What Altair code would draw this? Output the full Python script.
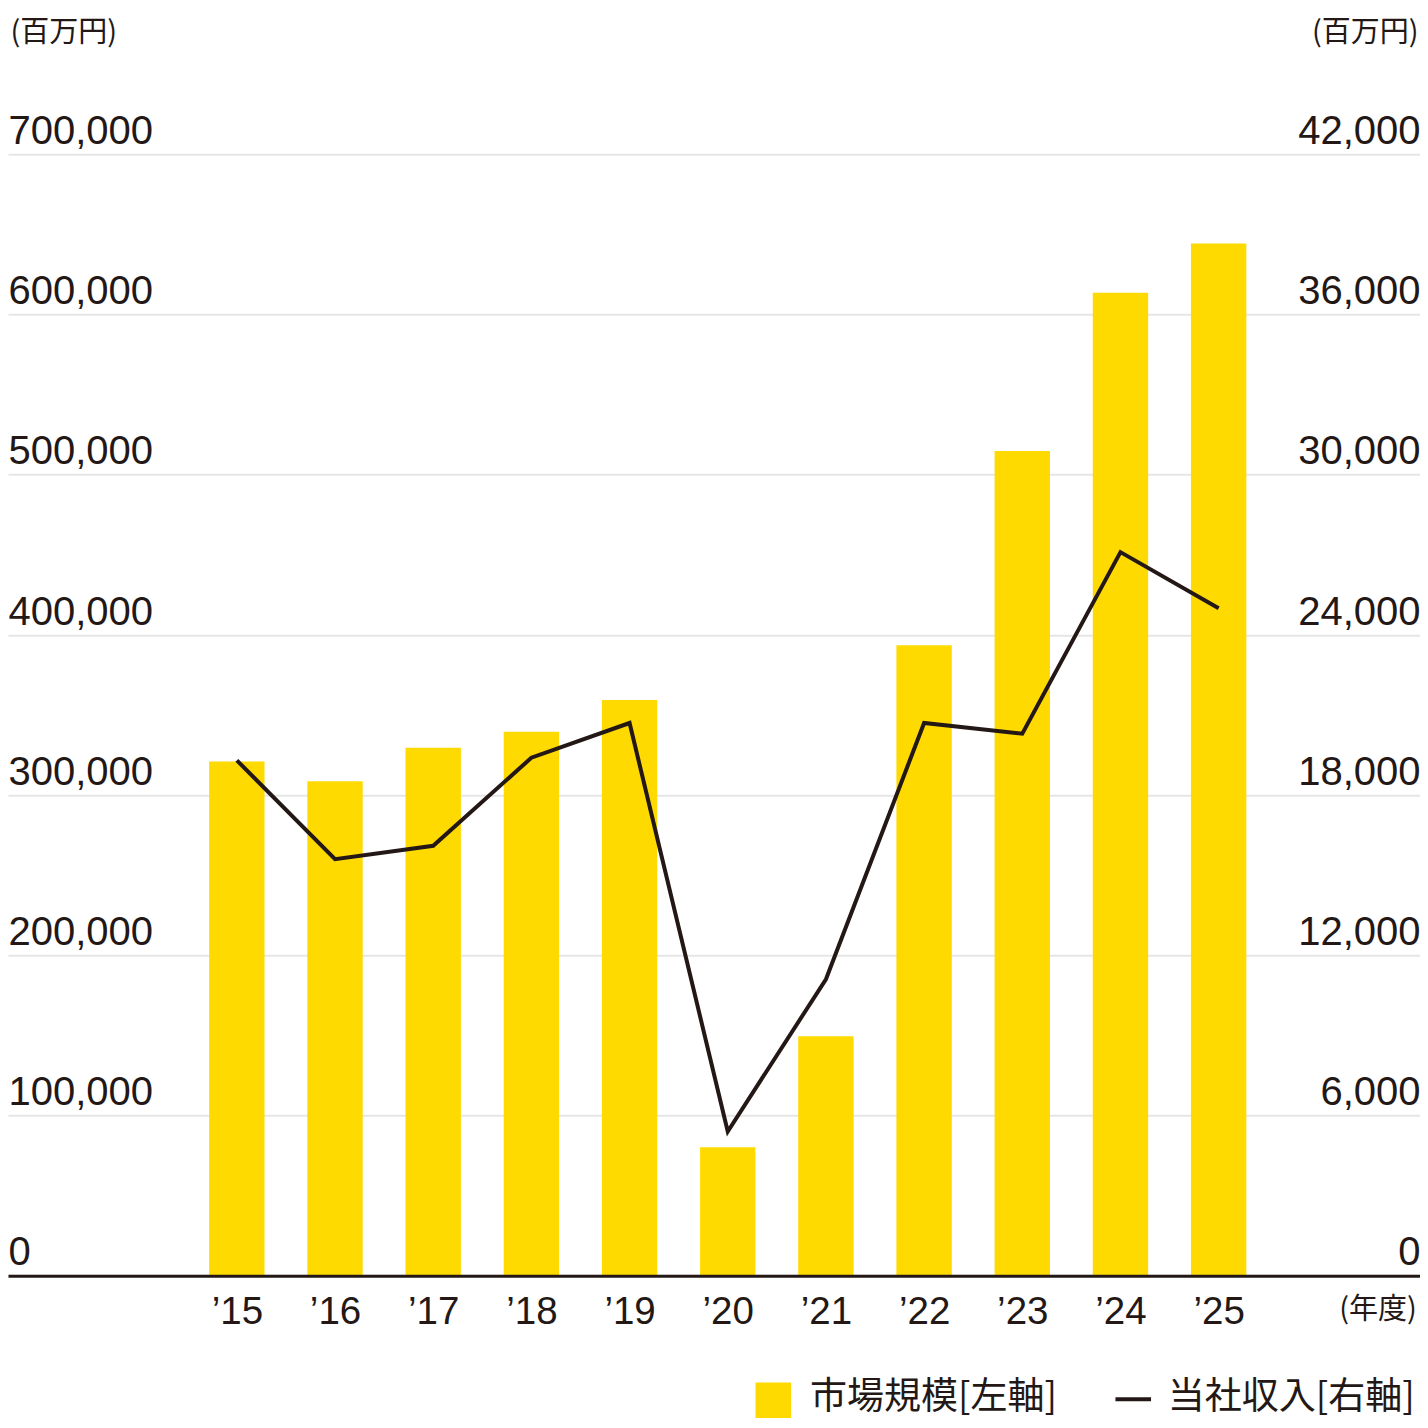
import json
import altair as alt
import pandas as pd

# ---- data ----
years = [2015, 2016, 2017, 2018, 2019, 2020, 2021, 2022, 2023, 2024, 2025]
year_labels = ["’15", "’16", "’17", "’18", "’19", "’20", "’21", "’22", "’23", "’24", "’25"]
market_size = [321000, 308600, 329600, 339500, 359300, 80200, 149400, 393500, 514800, 613600, 644400]
company_revenue = [19300, 15600, 16100, 19400, 20700, 5400, 11100, 20700, 20300, 27100, 25000]
left_ticks = [0, 100000, 200000, 300000, 400000, 500000, 600000, 700000]
right_ticks = [0, 6000, 12000, 18000, 24000, 30000, 36000, 42000]
unit_label = "(百万円)"
year_unit_label = "(年度)"
legend_labels = ["市場規模[左軸]", "当社収入[右軸]"]

# ---- layout helpers (reference pixel -> chart pixel) ----
S = 1412 / 1428
TOP = 148      # reference y of the top gridline
BASE = 1282    # reference y of the zero line


def px(v):
    return S * v


def py(v):
    return S * (v - TOP)


PAD_TOP = S * TOP
PLOT_H = S * (BASE - TOP)
PAD_BOTTOM = 1412 - PAD_TOP - PLOT_H
W = 1412

BAR = "#FFDA00"
INK = "#231815"
GRID = "#e6e6e6"
NUM_FONT = "Liberation Sans"
JP_FONT = "Noto Sans CJK JP"

df = pd.DataFrame({"year": years, "market": market_size, "revenue": company_revenue})

x_start = years[0] - 228 / 100
x_end = years[0] + (1428 - 228) / 100
x_scale = alt.Scale(domain=[x_start, x_end], nice=False, zero=False)

x_axis = alt.Axis(
    orient="bottom", values=years,
    labelExpr=f"{json.dumps(year_labels, ensure_ascii=False)}[datum.value - {years[0]}]",
    domain=True, domainColor=INK, domainWidth=3,
    ticks=False, tickSize=0, grid=False,
    labelFont=NUM_FONT, labelFontSize=38.5, labelColor=INK,
    labelAlign="center", labelBaseline="alphabetic", labelPadding=px(48),
    labelFlush=False, labelOverlap=False,
    title=year_unit_label, titleFont=JP_FONT, titleFontSize=29, titleFontWeight="normal",
    titleColor=INK, titleAngle=0, titleAlign="center", titleBaseline="middle",
    titleX=px(1385), titleY=px(1316 - BASE),
    zindex=1,
)

left_axis = alt.Axis(
    orient="left", values=left_ticks, format=",d",
    grid=True, gridColor=GRID, gridWidth=2,
    domain=False, ticks=False, tickSize=0,
    labelFont=NUM_FONT, labelFontSize=40, labelColor=INK,
    labelAlign="left", labelBaseline="alphabetic", labelPadding=0,
    labelOffset=-px(11), labelOverlap=False, labelFlush=False,
    title=unit_label, titleFont=JP_FONT, titleFontSize=29, titleFontWeight="normal",
    titleColor=INK, titleAngle=0, titleAlign="left", titleBaseline="middle",
    titleX=2, titleY=py(25),
)

right_axis = alt.Axis(
    orient="right", values=right_ticks, format=",d",
    grid=False, domain=False, ticks=False, tickSize=0,
    labelFont=NUM_FONT, labelFontSize=40, labelColor=INK,
    labelAlign="right", labelBaseline="alphabetic", labelPadding=0,
    labelOffset=-px(11), labelOverlap=False, labelFlush=False,
    title=unit_label, titleFont=JP_FONT, titleFontSize=29, titleFontWeight="normal",
    titleColor=INK, titleAngle=0, titleAlign="right", titleBaseline="middle",
    titleX=-2, titleY=py(25),
)

base = alt.Chart(df)

bars = base.mark_bar(color=BAR, size=px(56)).encode(
    x=alt.X("year:Q", scale=x_scale, axis=x_axis),
    y=alt.Y("market:Q", scale=alt.Scale(domain=[left_ticks[0], left_ticks[-1]], nice=False), axis=left_axis),
)

line = base.mark_line(color=INK, strokeWidth=4, strokeCap="butt", strokeJoin="miter").encode(
    x=alt.X("year:Q", scale=x_scale, axis=x_axis),
    y=alt.Y("revenue:Q", scale=alt.Scale(domain=[right_ticks[0], right_ticks[-1]], nice=False), axis=right_axis),
)

legend_swatch = alt.Chart(alt.Data(values=[{"label": legend_labels[0]}])).mark_rect(color=BAR).encode(
    x=alt.value(px(756)), x2=alt.value(px(792)), y=alt.value(py(1390)), y2=alt.value(py(1426)),
)
legend_stroke = alt.Chart(alt.Data(values=[{"label": legend_labels[1]}])).mark_rule(
    color=INK, strokeWidth=4
).encode(
    x=alt.value(px(1120)), x2=alt.value(px(1156)), y=alt.value(py(1407)),
)
legend_text1 = alt.Chart(alt.Data(values=[{"label": legend_labels[0]}])).mark_text(
    align="left", baseline="middle", font=JP_FONT, fontSize=37, color=INK
).encode(x=alt.value(px(811)), y=alt.value(py(1406)), text="label:N")
legend_text2 = alt.Chart(alt.Data(values=[{"label": legend_labels[1]}])).mark_text(
    align="left", baseline="middle", font=JP_FONT, fontSize=37, color=INK
).encode(x=alt.value(px(1173)), y=alt.value(py(1406)), text="label:N")

chart = alt.layer(
    bars, line, legend_swatch, legend_stroke, legend_text1, legend_text2
).resolve_scale(y="independent").properties(
    width=W, height=PLOT_H,
    background="white",
    autosize=alt.AutoSizeParams(type="none"),
    padding={"left": 0, "right": 0, "top": PAD_TOP, "bottom": PAD_BOTTOM},
).configure_view(strokeWidth=0, stroke="transparent")

chart.save("out.html", embed_options={"renderer": "svg", "actions": False})
